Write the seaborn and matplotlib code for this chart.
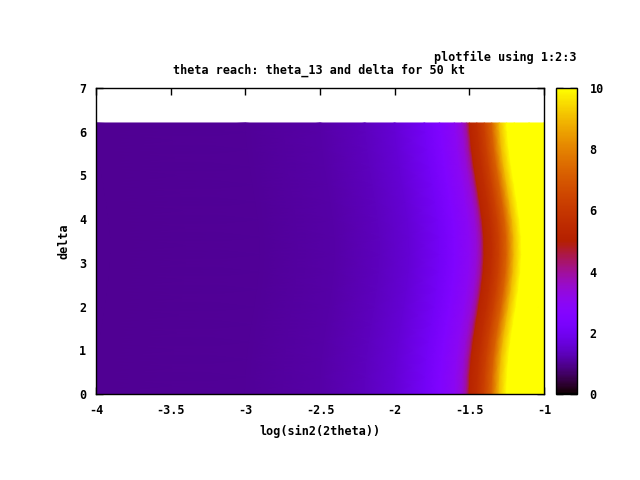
import numpy as np
import matplotlib
matplotlib.use("Agg")
import matplotlib.pyplot as plt
import seaborn as sns

sns.set_theme(style="white")
plt.rcParams['font.family'] = ['DejaVu Sans Mono', 'DejaVu Sans']
for k in ["text.color", "axes.labelcolor", "xtick.color", "ytick.color", "axes.edgecolor"]:
    plt.rcParams[k] = "black"

# reach profile along log(sin2(2theta)) at delta = 0
log_s2 = [-4.5, -4.0, -3.0, -2.5, -2.2, -2.0, -1.8, -1.7, -1.6, -1.55, -1.52,
          -1.5, -1.45, -1.4, -1.35, -1.3, -1.25, -1.2, -1.1, -1.0, -0.5]
reach = [1.0, 1.0, 1.05, 1.15, 1.35, 1.6, 2.1, 2.5, 3.0, 3.4, 4.0,
         5.2, 5.6, 6.3, 7.3, 9.0, 10.8, 12.0, 13.5, 15.0, 20.0]

# delta rows and how far the reach contour bulges to the right at each delta
delta = [0.0, 0.4, 0.8, 1.2, 1.6, 2.0, 2.4, 2.8, 3.2, 3.6, 4.0, 4.4,
         4.8, 5.2, 5.6, 6.0, 6.2]
shift = [0.0, 0.004, 0.013, 0.027, 0.045, 0.064, 0.081, 0.094, 0.1, 0.098,
         0.087, 0.07, 0.051, 0.032, 0.016, 0.005, 0.0]

x_ticks = [-4, -3.5, -3, -2.5, -2, -1.5, -1]
x_tick_labels = ["-4", "-3.5", "-3", "-2.5", "-2", "-1.5", "-1"]
y_ticks = [0, 1, 2, 3, 4, 5, 6, 7]
cb_ticks = [0, 2, 4, 6, 8, 10]

fig = plt.figure(figsize=(6.4, 4.8), dpi=100)
ax = fig.add_axes([96/640, 1-394/480, (544-96)/640, (394-88)/480])
cax = fig.add_axes([556/640, 1-394/480, (577-556)/640, (394-88)/480])

xs = np.array(log_s2)[None, :] + np.array(shift)[:, None]
ys = np.repeat(np.array(delta)[:, None], len(log_s2), axis=1)
zs = np.tile(np.array(reach), (len(delta), 1))
mesh = ax.pcolormesh(xs, ys, zs, cmap="gnuplot", vmin=0, vmax=10,
                     shading="gouraud", rasterized=True)
ax.set_xlim(-4, -1)
ax.set_ylim(0, 7)
ax.set_facecolor("white")

fs = 8.5
ax.set_xticks(x_ticks)
ax.set_xticklabels(x_tick_labels, fontsize=fs, fontweight="bold")
ax.set_yticks(y_ticks)
ax.set_yticklabels([str(t) for t in y_ticks], fontsize=fs, fontweight="bold")
ax.tick_params(direction="in", length=5, width=1, color="black",
               top=True, right=True, bottom=True, left=True, pad=7)
for sp in ax.spines.values():
    sp.set_color("black")
    sp.set_linewidth(1)
    sp.set_visible(True)
ax.set_xlabel("log(sin2(2theta))", fontsize=fs, fontweight="bold", labelpad=6)
ax.set_ylabel("delta", fontsize=fs, fontweight="bold", labelpad=6)

cb = fig.colorbar(mesh, cax=cax)
cb.set_ticks(cb_ticks)
cb.ax.set_yticklabels([str(t) for t in cb_ticks], fontsize=fs, fontweight="bold")
cb.ax.tick_params(direction="in", length=5, width=1, color="black",
                  left=True, right=True, pad=9)
cb.outline.set_edgecolor("black")
cb.outline.set_linewidth(1)

fig.text(319/640, 1-70/480, "theta reach: theta_13 and delta for 50 kt",
         ha="center", va="center", fontsize=fs, fontweight="bold")
fig.text(576/640, 1-57/480, "plotfile using 1:2:3",
         ha="right", va="center", fontsize=fs, fontweight="bold")

fig.savefig("out.png", dpi=100)
